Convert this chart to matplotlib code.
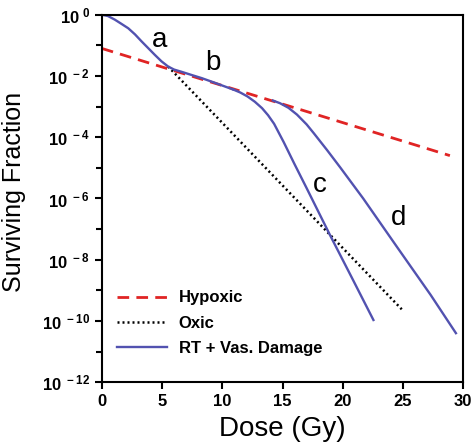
import numpy as np
import matplotlib
matplotlib.use("Agg")
import matplotlib.pyplot as plt
from matplotlib.lines import Line2D

plt.rcParams["font.family"] = ["Liberation Sans", "DejaVu Sans"]
plt.rcParams["mathtext.fontset"] = "custom"
plt.rcParams["mathtext.rm"] = "Liberation Sans"
plt.rcParams["mathtext.bf"] = "Liberation Sans:bold"

# values (log10 of surviving fraction)
hyp_dose = [0, 28.9]
hyp_log = [-1.10, -4.60]

oxic_dose = [5.5, 24.9]
oxic_log = [-1.69, -9.62]

# RT + vascular damage, shared part (a, b)
vas_dose = [0, 0.5, 1.08, 1.6, 2.19, 2.75, 3.3, 3.85, 4.4, 4.95, 5.5, 6.0,
            6.6, 7.4, 8.3, 9.3, 10.2, 10.9]
vas_log = [0, -0.04, -0.16, -0.29, -0.44, -0.64, -0.87, -1.09, -1.31, -1.52,
           -1.69, -1.79, -1.86, -1.96, -2.07, -2.21, -2.34, -2.44]

# branch c
c_dose = [10.9, 11.5, 12.1, 12.7, 13.3, 13.8, 14.3, 15.1, 16.0, 17.0, 18.0,
          19.0, 20.8, 22.55]
c_log = [-2.44, -2.54, -2.67, -2.84, -3.05, -3.28, -3.56, -4.16, -4.88,
         -5.66, -6.45, -7.24, -8.62, -9.97]

# branch d
d_dose = [14.2, 14.8, 15.5, 16.2, 17.0, 17.6, 18.7, 19.8, 21.7, 24.5, 27.3,
          29.4]
d_log = [-2.80, -2.89, -3.04, -3.26, -3.58, -3.87, -4.42, -4.99, -6.00,
         -7.58, -9.15, -10.40]

major_exp = [0, -2, -4, -6, -8, -10, -12]
minor_exp = [-1, -3, -5, -7, -9, -11]
x_ticks = [0, 5, 10, 15, 20, 25, 30]

blue = "#5252B0"
red = "#E02424"

fig = plt.figure(figsize=(4.76, 4.48), dpi=100)
ax = fig.add_axes([0.214, 0.147, 0.759, 0.82])

ax.plot(hyp_dose, np.power(10.0, hyp_log), color=red, lw=2.0,
        dashes=(4.2, 2.6))
ax.plot(oxic_dose, np.power(10.0, oxic_log), color="black", lw=1.8,
        linestyle=(0, (0.8, 1.2)))
ax.plot(vas_dose, np.power(10.0, vas_log), color=blue, lw=1.7)
ax.plot(c_dose, np.power(10.0, c_log), color=blue, lw=1.7)
ax.plot(d_dose, np.power(10.0, d_log), color=blue, lw=1.7)

ax.set_yscale("log")
ax.set_xlim(0, 30)
ax.set_ylim(1e-12, 1)

ax.set_yticks([10.0 ** e for e in major_exp])
ax.set_yticklabels([r"$\mathbf{10^{\ %d}}$" % e for e in major_exp])
ax.set_yticks([10.0 ** e for e in minor_exp], minor=True)
ax.yaxis.set_minor_formatter(matplotlib.ticker.NullFormatter())
ax.set_xticks(x_ticks)
ax.set_xticklabels([str(t) for t in x_ticks], fontweight="bold")

ax.tick_params(which="both", direction="out", width=1.5, labelsize=12)
ax.tick_params(which="major", length=5)
ax.tick_params(which="minor", length=4)
for s in ax.spines.values():
    s.set_linewidth(1.5)

ax.set_xlabel("Dose (Gy)", fontsize=20, labelpad=5)
ax.set_ylabel("Surviving Fraction", fontsize=18)
ax.yaxis.set_label_coords(-0.21, 0.518)

# curve letters
ax.text(4.8, 10 ** -0.82, "a", fontsize=20, ha="center", va="center")
ax.text(9.2, 10 ** -1.57, "b", fontsize=20, ha="center", va="center")
ax.text(18.1, 10 ** -5.56, "c", fontsize=20, ha="center", va="center")
ax.text(24.6, 10 ** -6.63, "d", fontsize=20, ha="center", va="center")

handles = [
    Line2D([], [], color=red, lw=2.0, dashes=(4.2, 2.6)),
    Line2D([], [], color="black", lw=1.8, linestyle=(0, (0.8, 1.2))),
    Line2D([], [], color=blue, lw=1.7),
]
ax.legend(handles, ["Hypoxic", "Oxic", "RT + Vas. Damage"],
          loc="lower left", bbox_to_anchor=(0.0, 0.03), frameon=False,
          handlelength=3.0, handletextpad=0.7, labelspacing=0.62,
          prop={"weight": "bold", "size": 12})

fig.savefig("out.png", dpi=100)
